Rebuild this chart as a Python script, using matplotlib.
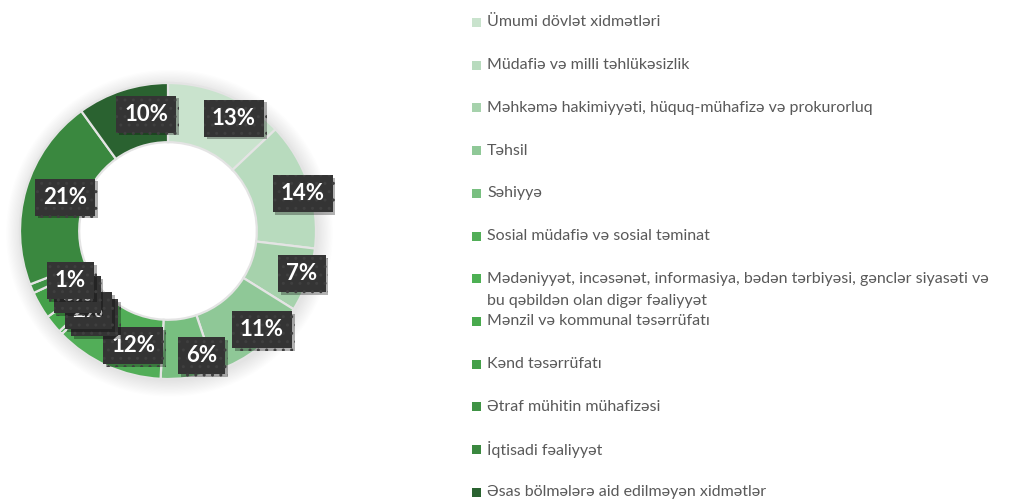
import matplotlib
matplotlib.use("Agg")
import matplotlib.pyplot as plt
import numpy as np
from matplotlib.patches import Rectangle, Circle
from matplotlib import patheffects as pe

categories = [
    "Ümumi dövlət xidmətləri",
    "Müdafiə və milli təhlükəsizlik",
    "Məhkəmə hakimiyyəti, hüquq-mühafizə və prokurorluq",
    "Təhsil",
    "Səhiyyə",
    "Sosial müdafiə və sosial təminat",
    "Mədəniyyət, incəsənət, informasiya, bədən tərbiyəsi, gənclər siyasəti və\nbu qəbildən olan digər fəaliyyət",
    "Mənzil və kommunal təsərrüfatı",
    "Kənd təsərrüfatı",
    "Ətraf mühitin mühafizəsi",
    "İqtisadi fəaliyyət",
    "Əsas bölmələrə aid edilməyən xidmətlər",
]
shares = [13, 14, 7, 11, 6, 12, 0.4, 2, 3, 1, 21, 10]
colors = ["#c9e3cd", "#b8dbbe", "#a6d2ac", "#8fc897", "#78bf80", "#52ae58",
          "#4db053", "#48aa4d", "#44a049", "#3f9345", "#3a883f", "#2a6230"]

W, H = 1019, 499
fig = plt.figure(figsize=(W / 100, H / 100), dpi=100)
fig.patch.set_facecolor("white")

# donut axes: centre (168, 231) px, outer radius 148 px
cx, cy, R = 168, 231, 148
ax = fig.add_axes([(cx - R) / W, (H - cy - R) / H, 2 * R / W, 2 * R / H])

# soft glow around the ring
for k in range(14):
    ax.add_patch(Circle((0.01, -0.015), 1.0 + 0.008 * k, fc="#000000",
                        alpha=0.006, lw=0, zorder=0, clip_on=False))
ax.add_patch(Circle((0, 0), 0.6, fc="white", lw=0, zorder=0.5, clip_on=False))

wedges, _ = ax.pie(shares, colors=colors, startangle=90, counterclock=False,
                   radius=1.0,
                   wedgeprops=dict(width=0.4, edgecolor="#e4e4e4", linewidth=1.6))
for w in wedges:
    w.set_zorder(1)
    w.set_clip_on(False)

for i, (w, v) in enumerate(zip(wedges, shares)):
    mid = np.deg2rad((w.theta1 + w.theta2) / 2)
    r = 0.84
    t = ax.annotate(f"{v:.0f}%", (r * np.cos(mid), r * np.sin(mid)),
                    xytext=(12, -1), textcoords="offset points",
                    ha="center", va="center",
                    fontsize=16, fontweight="bold", color="white", family="Lato",
                    zorder=10 + i, annotation_clip=False,
                    bbox=dict(boxstyle="square,pad=0.36", fc="#343434", ec="#3f3f3f",
                              hatch="..", lw=0))
    t.get_bbox_patch().set_path_effects(
        [pe.withSimplePatchShadow(offset=(2, -2), shadow_rgbFace="black", alpha=0.3),
         pe.Normal()])

ax.set_xlim(-1, 1)
ax.set_ylim(-1, 1)
ax.set_aspect("auto")
ax.axis("off")

# legend
y0, step = 22.5, 42.7
for i, (lab, col) in enumerate(zip(categories, colors)):
    y = y0 + i * step
    fig.patches.append(Rectangle(((472) / W, (H - y - 4.5) / H), 9 / W, 9 / H,
                                 transform=fig.transFigure, fc=col, ec="none"))
    lines = lab.split("\n")
    fig.text(487 / W, (H - y) / H, lines[0], ha="left", va="center",
             fontsize=11.5, color="#595959", family="Lato")
    if len(lines) > 1:
        fig.text(487 / W, (H - y - 22) / H, lines[1], ha="left", va="center",
                 fontsize=11.5, color="#595959", family="Lato")

fig.savefig("out.png", dpi=100)
